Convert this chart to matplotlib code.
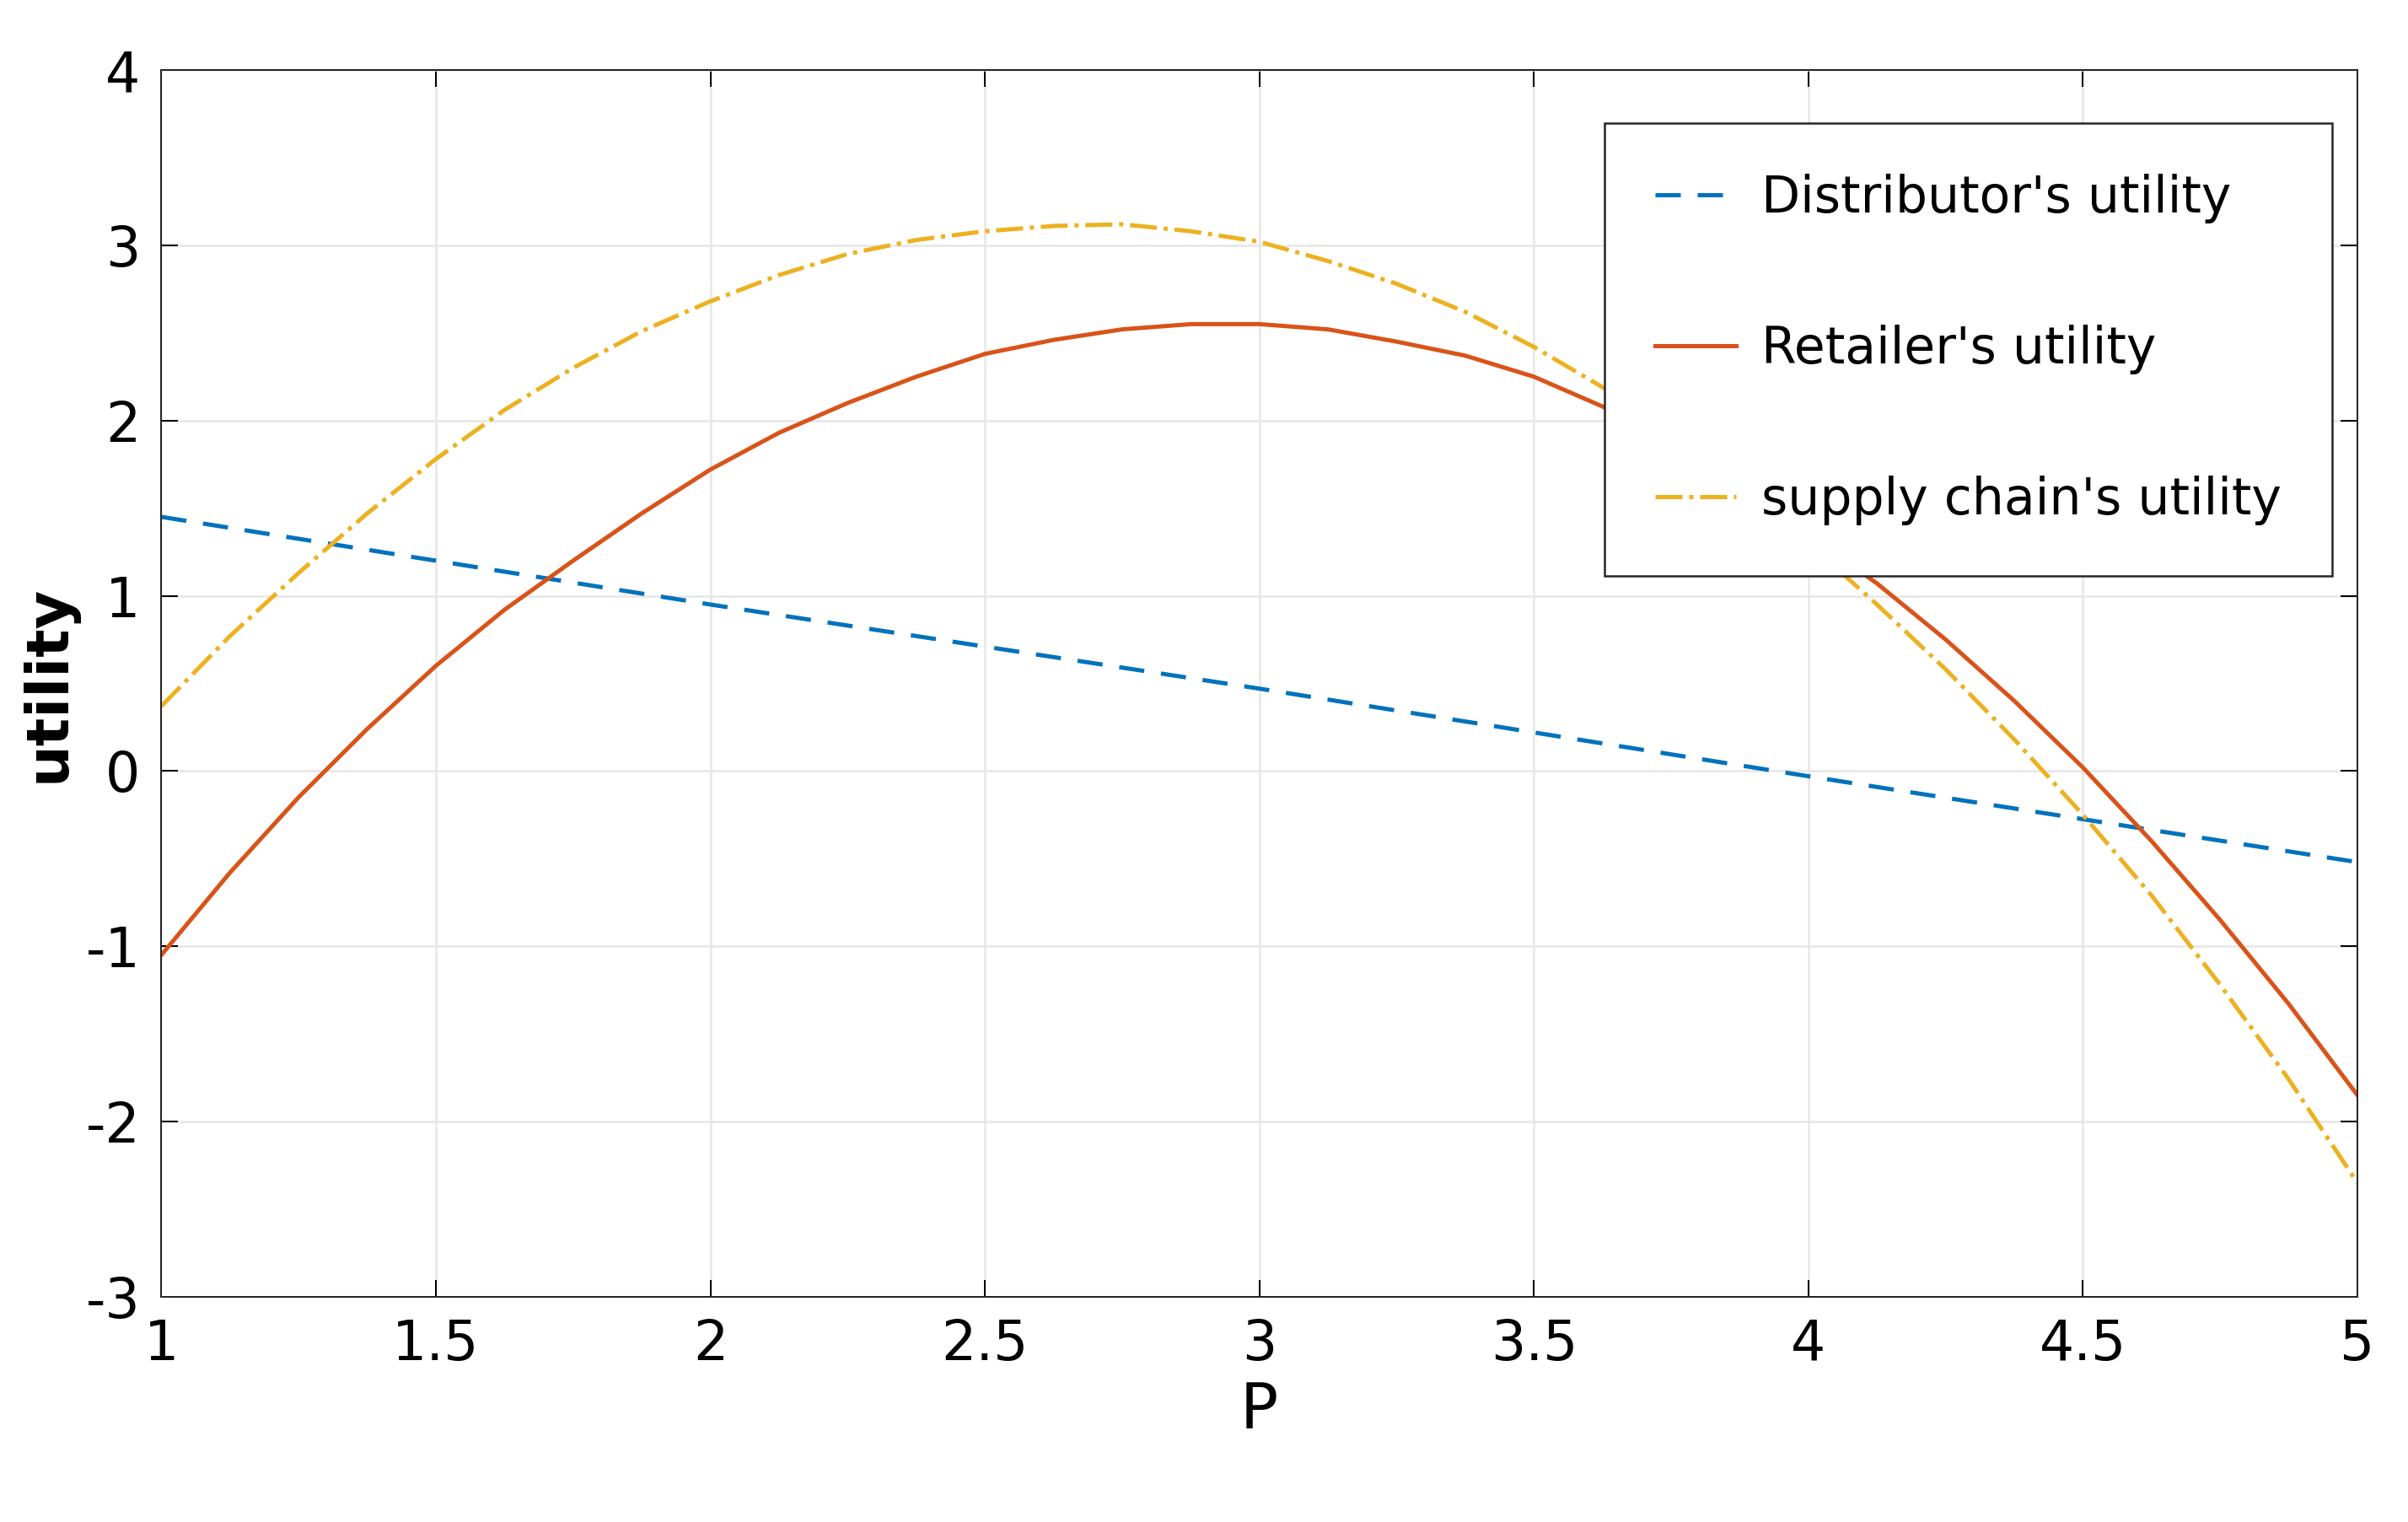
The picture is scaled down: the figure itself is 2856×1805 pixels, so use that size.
import numpy as np
import matplotlib
matplotlib.use('Agg')
import matplotlib.pyplot as plt

plt.rcParams['axes.unicode_minus'] = False
plt.rcParams['font.family'] = ['Liberation Sans Narrow', 'DejaVu Sans']

# values
p_dist = [1, 2, 3, 4, 5]
distributor = [1.45, 0.95, 0.47, -0.03, -0.52]

p = [1, 1.125, 1.25, 1.375, 1.5, 1.625, 1.75, 1.875, 2, 2.125, 2.25, 2.375, 2.5, 2.625,
     2.75, 2.875, 3, 3.125, 3.25, 3.375, 3.5, 3.625, 3.75, 3.875, 4, 4.125, 4.25, 4.375,
     4.5, 4.625, 4.75, 4.875, 5]
retailer = [-1.05, -0.58, -0.15, 0.24, 0.6, 0.92, 1.2, 1.47, 1.72, 1.93, 2.1, 2.25,
            2.38, 2.46, 2.52, 2.55, 2.55, 2.52, 2.45, 2.37, 2.25, 2.08, 1.88, 1.63,
            1.35, 1.07, 0.75, 0.4, 0.02, -0.4, -0.85, -1.33, -1.85]
supply = [0.37, 0.77, 1.13, 1.47, 1.78, 2.06, 2.3, 2.51, 2.68, 2.83, 2.95, 3.03,
          3.08, 3.11, 3.12, 3.08, 3.02, 2.91, 2.78, 2.62, 2.42, 2.19, 1.92, 1.63,
          1.3, 0.95, 0.58, 0.18, -0.25, -0.71, -1.22, -1.76, -2.35]

xticks = [1, 1.5, 2, 2.5, 3, 3.5, 4, 4.5, 5]
xticklabels = ['1', '1.5', '2', '2.5', '3', '3.5', '4', '4.5', '5']
yticks = [-3, -2, -1, 0, 1, 2, 3, 4]

fig = plt.figure(figsize=(2856 / 180, 1805 / 180), dpi=180)
ax = fig.add_axes([0.067, 0.148, 0.912, 0.806])

ax.plot(p_dist, distributor, '--', color='#0072BD', lw=2, dashes=(6, 4), label="Distributor's utility")
ax.plot(p, retailer, '-', color='#D95319', lw=2, label="Retailer's utility")
ax.plot(p, supply, '-.', color='#EDB120', lw=2, label="supply chain's utility")

ax.set_xlim(1, 5)
ax.set_ylim(-3, 4)
ax.set_xticks(xticks)
ax.set_xticklabels(xticklabels)
ax.set_yticks(yticks)
ax.tick_params(direction='in', top=True, right=True, labelsize=26, length=8, pad=10)
ax.grid(True, color='#e6e6e6', lw=1)
ax.set_axisbelow(True)
for s in ax.spines.values():
    s.set_color('#262626')
ax.set_xlabel('P', fontsize=30, family=['DejaVu Sans'])
ax.set_ylabel('utility', fontsize=28, family=['DejaVu Sans'], fontweight='bold')

leg = ax.legend(loc='upper right', bbox_to_anchor=(1.0, 0.977), fontsize=24, fancybox=False,
                framealpha=1, edgecolor='#262626', handlelength=1.6, labelspacing=2.0,
                borderpad=1.0, handletextpad=0.5)

fig.savefig('out.png', dpi=180)
